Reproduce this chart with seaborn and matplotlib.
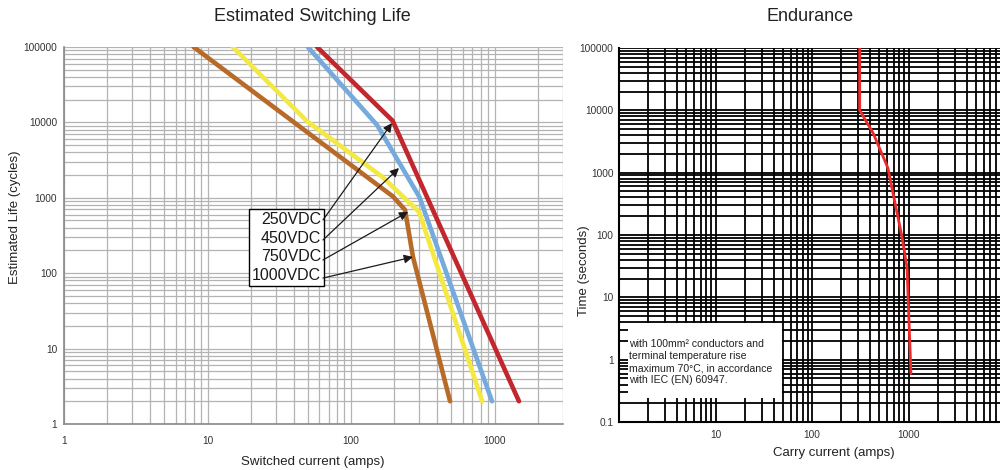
import numpy as np
import pandas as pd
import seaborn as sns
import matplotlib.pyplot as plt
from matplotlib.ticker import LogLocator, NullFormatter
from matplotlib.patches import Rectangle

sns.set_theme(style="white")
plt.rcParams['font.family'] = ['Liberation Sans', 'DejaVu Sans']

# Estimated switching life: switched current (amps) vs life (cycles)
voltages = ['250VDC', '450VDC', '750VDC', '1000VDC']
current_250 = [58, 195, 1480]
life_250 = [100000, 10500, 2]
current_450 = [50, 152, 300, 960]
life_450 = [100000, 9200, 1020, 2]
current_750 = [15, 49, 165, 298, 820]
life_750 = [100000, 10500, 1900, 650, 2]
current_1000 = [8, 196, 238, 270, 490]
life_1000 = [100000, 1040, 690, 165, 2]

# where the label arrows point (on the curves)
arrow_targets = [(193, 9800), (216, 2480), (250, 650), (270, 164)]

# Endurance: carry current (amps) vs time (seconds)
carry_current = [312, 312, 430, 610, 860, 965, 1060]
carry_time = [100000, 10000, 4300, 1200, 90, 30, 0.6]

life_ticks = [1, 10, 100, 1000, 10000, 100000]
switch_ticks = [1, 10, 100, 1000]
time_ticks = [0.1, 1, 10, 100, 1000, 10000, 100000]
carry_ticks = [10, 100, 1000]

note = ("with 100mm\u00b2 conductors and\nterminal temperature rise\n"
        "maximum 70\u00b0C, in accordance\nwith IEC (EN) 60947.")

frames = []
for v, c, l in zip(voltages,
                   [current_250, current_450, current_750, current_1000],
                   [life_250, life_450, life_750, life_1000]):
    frames.append(pd.DataFrame({'current': c, 'life': l, 'voltage': v}))
df = pd.concat(frames, ignore_index=True)

palette = {'250VDC': '#c1272d', '450VDC': '#74aadc',
           '750VDC': '#f4e842', '1000VDC': '#b86a28'}

fig = plt.figure(figsize=(10, 4.7), dpi=100)
ax1 = fig.add_axes([0.064, 0.098, 0.499, 0.802])
ax2 = fig.add_axes([0.619, 0.102, 0.3816, 0.796])

# ---- left chart ----
ax1.set(xscale='log', yscale='log')
sns.lineplot(data=df, x='current', y='life', hue='voltage', palette=palette,
             hue_order=['1000VDC', '750VDC', '450VDC', '250VDC'],
             estimator=None, sort=False, legend=False, linewidth=3.3,
             solid_capstyle='round', ax=ax1)
ax1.set_xlim(1, 3000)
ax1.set_ylim(1, 100000)
ax1.set_xticks(switch_ticks, labels=[f'{t:g}' for t in switch_ticks])
ax1.set_yticks(life_ticks, labels=[f'{t:g}' for t in life_ticks])
for axis in (ax1.xaxis, ax1.yaxis):
    axis.set_minor_locator(LogLocator(base=10, subs=np.arange(2, 10), numticks=100))
    axis.set_minor_formatter(NullFormatter())
ax1.grid(True, which='both', color='#b3b3b3', lw=0.9)
ax1.set_axisbelow(True)
ax1.tick_params(which='major', length=3, width=0.8, color='#777777',
                labelsize=7.3, labelcolor='#333333', pad=2)
ax1.tick_params(axis='x', which='major', pad=6)
ax1.tick_params(which='minor', length=0)
for s in ['top', 'right']:
    ax1.spines[s].set_visible(False)
for s in ['left', 'bottom']:
    ax1.spines[s].set_color('#888888')
    ax1.spines[s].set_linewidth(1.2)
ax1.set_xlabel('Switched current (amps)', fontsize=9.5, color='#222222')
ax1.set_ylabel('Estimated Life (cycles)', fontsize=9.5, color='#222222')
ax1.xaxis.set_label_coords(0.499, -0.084)
ax1.yaxis.set_label_coords(-0.086, 0.549)

ax1.text(0.515, 0.468, '\n'.join(voltages), transform=ax1.transAxes,
         ha='right', va='center', fontsize=11.5, linespacing=1.3,
         color='#1a1a1a', zorder=5,
         bbox=dict(boxstyle='square,pad=0.2', fc='white', ec='black', lw=1))
for (tx, ty), yy in zip(arrow_targets, [0.541, 0.488, 0.435, 0.387]):
    ax1.annotate('', xy=(tx, ty), xycoords='data', xytext=(0.519, yy),
                 textcoords='axes fraction', zorder=6,
                 arrowprops=dict(arrowstyle='-|>', color='#1a1a1a', lw=0.9,
                                 mutation_scale=13, shrinkA=0, shrinkB=0))

# ---- right chart ----
ax2.set(xscale='log', yscale='log')
sns.lineplot(x=carry_current, y=carry_time, color='#ee2a2a', linewidth=2,
             estimator=None, sort=False, ax=ax2, zorder=4)
ax2.set_xlim(1, 9000)
ax2.set_ylim(0.1, 100000)
ax2.set_xticks(carry_ticks, labels=[f'{t:g}' for t in carry_ticks])
ax2.set_yticks(time_ticks, labels=[f'{t:g}' for t in time_ticks])
for axis in (ax2.xaxis, ax2.yaxis):
    axis.set_minor_locator(LogLocator(base=10, subs=np.arange(2, 10), numticks=100))
    axis.set_minor_formatter(NullFormatter())
ax2.grid(True, which='both', color='black', lw=1.3)
ax2.set_axisbelow(True)
ax2.tick_params(which='both', length=0, labelsize=7.3, labelcolor='#333333', pad=4)
ax2.tick_params(axis='x', which='major', pad=6)
for s in ['top', 'right']:
    ax2.spines[s].set_visible(False)
for s in ['left', 'bottom']:
    ax2.spines[s].set_color('black')
    ax2.spines[s].set_linewidth(1.5)
ax2.set_xlabel('Carry current (amps)', fontsize=9.5, color='#222222')
ax2.set_ylabel('Time (seconds)', fontsize=9.5, color='#222222')
ax2.xaxis.set_label_coords(0.562, -0.067)
ax2.yaxis.set_label_coords(-0.076, 0.404)

ax2.add_patch(Rectangle((0.024, 0.064), 0.404, 0.201, transform=ax2.transAxes,
                        fc='white', ec='none', zorder=2))
ax2.text(0.026, 0.160, note, transform=ax2.transAxes, ha='left', va='center',
         fontsize=7.6, linespacing=1.25, color='#222222', zorder=3)

fig.text(0.312, 0.964, 'Estimated Switching Life', ha='center', va='center',
         fontsize=13, color='#222222')
fig.text(0.810, 0.964, 'Endurance', ha='center', va='center',
         fontsize=13, color='#222222')

fig.savefig('out.png', dpi=100)
